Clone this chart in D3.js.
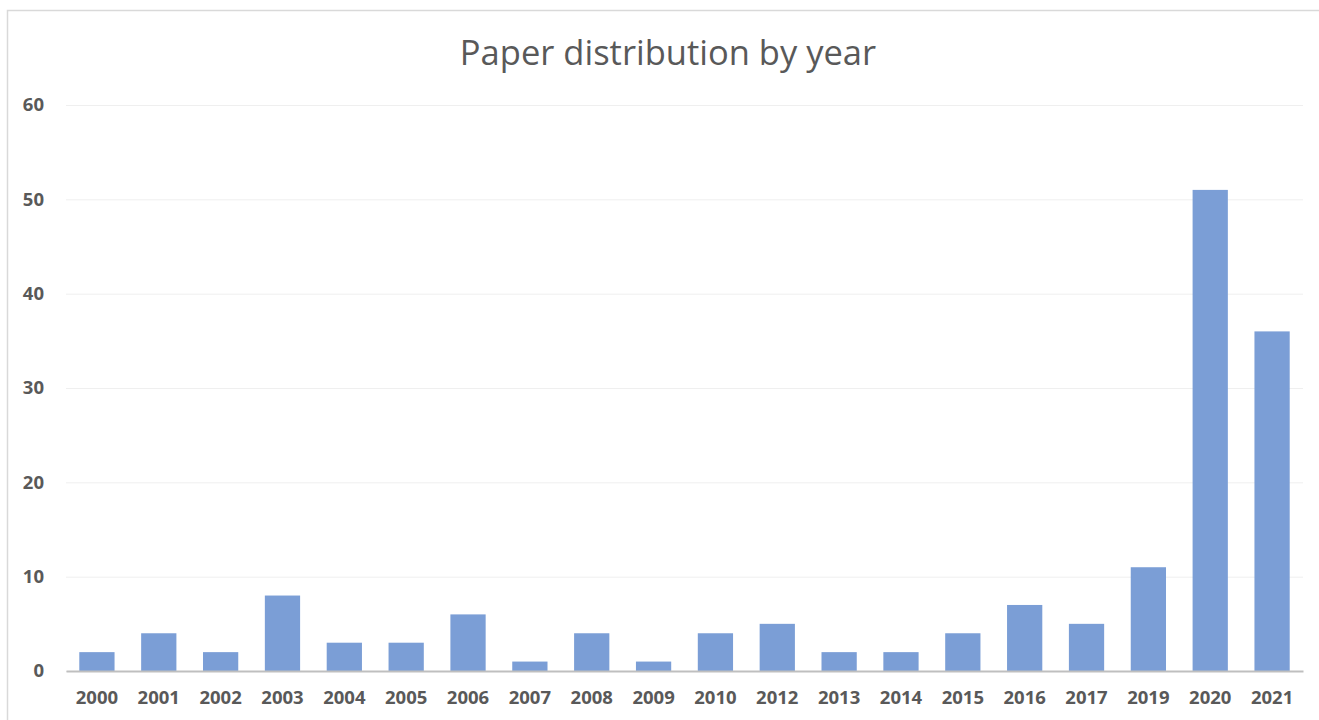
<!DOCTYPE html>
<html lang="en">
  <head>
    <meta charset="UTF-8" />
    <title>Paper distribution by year</title>
    <style>
      body { margin: 0; background: #fff; }
    </style>
  </head>
  <body>
    <svg id="chart" width="1319" height="720"></svg>
    <script src="https://cdn.jsdelivr.net/npm/d3@7"></script>
    <script>
      const years = ["2000", "2001", "2002", "2003", "2004", "2005", "2006", "2007", "2008", "2009",
        "2010", "2012", "2013", "2014", "2015", "2016", "2017", "2019", "2020", "2021"];
      const papers = [2, 4, 2, 8, 3, 3, 6, 1, 4, 1, 4, 5, 2, 2, 4, 7, 5, 11, 51, 36];
      const yTicks = [0, 10, 20, 30, 40, 50, 60];
      const title = "Paper distribution by year";

      const svg = d3.select("#chart");
      const plotL = 66, plotR = 1303, plotT = 105, plotB = 671;

      // chart frame
      svg.append("rect")
        .attr("x", 7.5).attr("y", 10.5)
        .attr("width", 1330).attr("height", 730)
        .attr("fill", "none")
        .attr("stroke", "#d9d9d9")
        .attr("stroke-width", 1.5);

      const x = d3.scaleBand().domain(years).range([plotL, plotR]).paddingInner(0.43).paddingOuter(0.215);
      const y = d3.scaleLinear().domain([0, 60]).range([plotB, plotT]);

      // gridlines + y labels
      const yAxis = svg.append("g")
        .attr("transform", `translate(${plotL},0)`)
        .call(d3.axisLeft(y).tickValues(yTicks).tickSize(-(plotR - plotL)).tickPadding(22));
      yAxis.select(".domain").remove();
      yAxis.selectAll(".tick line").attr("stroke", "#efefef").attr("stroke-width", 1);
      yAxis.selectAll(".tick text")
        .attr("fill", "#595959")
        .style("font", "bold 18.5px 'Open Sans', sans-serif");

      svg.append("g")
        .selectAll("rect")
        .data(papers)
        .join("rect")
        .attr("x", (d, i) => x(years[i]))
        .attr("y", d => y(d))
        .attr("width", x.bandwidth())
        .attr("height", d => y(0) - y(d))
        .attr("fill", "#7b9ed6");

      const xAxis = svg.append("g")
        .attr("transform", `translate(0,${plotB})`)
        .call(d3.axisBottom(x).tickSize(0).tickPadding(20));
      xAxis.select(".domain").attr("stroke", "#bfbfbf").attr("stroke-width", 2);
      xAxis.selectAll(".tick text")
        .attr("fill", "#595959")
        .style("font", "bold 18.5px 'Open Sans', sans-serif");

      svg.append("text")
        .attr("x", 668).attr("y", 65)
        .attr("text-anchor", "middle")
        .attr("fill", "#595959")
        .style("font", "34.5px 'Open Sans', sans-serif")
        .text(title);
    </script>
  </body>
</html>
